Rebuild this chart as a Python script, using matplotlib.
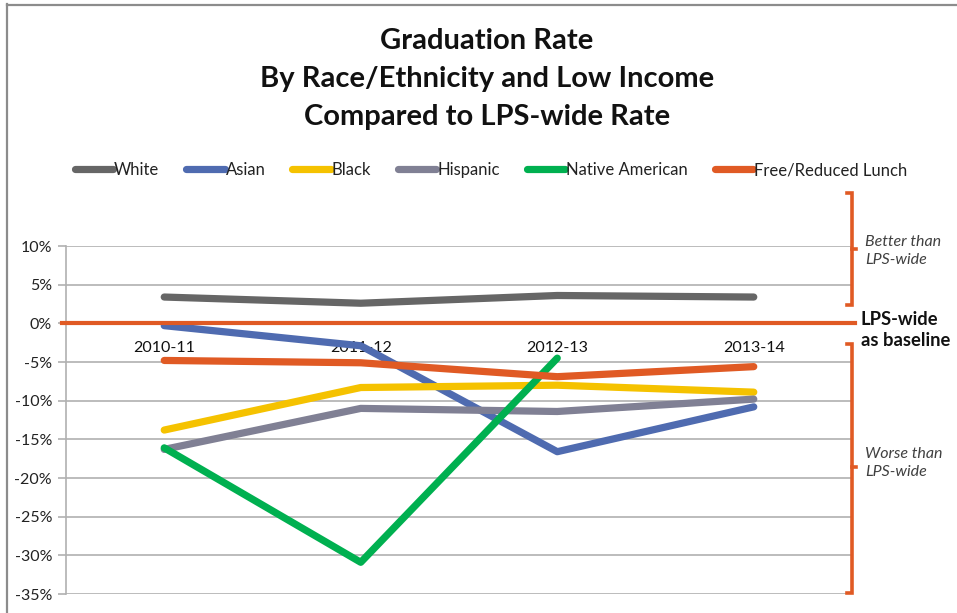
import matplotlib
matplotlib.use("Agg")
import matplotlib.pyplot as plt
from matplotlib.lines import Line2D
from matplotlib.ticker import FuncFormatter, MultipleLocator
import matplotlib.transforms as mtrans

plt.rcParams['font.family'] = ['Lato', 'DejaVu Sans']

years = ["2010-11", "2011-12", "2012-13", "2013-14"]
white = [3.4, 2.6, 3.6, 3.4]
asian = [-0.3, -2.9, -16.6, -10.8]
black = [-13.8, -8.3, -8.0, -8.9]
hispanic = [-16.3, -11.0, -11.4, -9.8]
native_american = [-16.1, -30.9, -4.5]
free_reduced = [-4.8, -5.1, -6.9, -5.6]

series = [
    ("White", white, "#666666"),
    ("Asian", asian, "#4F6BB0"),
    ("Black", black, "#F5C200"),
    ("Hispanic", hispanic, "#808094"),
    ("Native American", native_american, "#00B050"),
    ("Free/Reduced Lunch", free_reduced, "#E05A24"),
]

W, H = 957, 613
fig = plt.figure(figsize=(W / 100, H / 100), dpi=100)
ax = fig.add_axes([66 / W, 1 - 594 / H, (852 - 66) / W, (594 - 246) / H])

# frame around the chart area
fig.add_artist(Line2D([7.5 / W, 7.5 / W], [0, 1 - 4 / H], color="#8c8c8c", lw=1.6))
fig.add_artist(Line2D([7.5 / W, 1], [1 - 4.5 / H, 1 - 4.5 / H], color="#8c8c8c", lw=1.6))

ax.set_xlim(-0.5, 3.5)
ax.set_ylim(-35, 10)
ax.yaxis.set_major_locator(MultipleLocator(5))
ax.yaxis.set_major_formatter(FuncFormatter(lambda v, p: f"{v:.0f}%"))
ax.grid(axis="y", color="#b0b0b0", lw=1.2)
ax.set_axisbelow(True)

for s in ["top", "right", "bottom"]:
    ax.spines[s].set_visible(False)
ax.spines["left"].set_color("#b0b0b0")
ax.spines["left"].set_linewidth(1.2)
ax.tick_params(axis="y", length=6, color="#b0b0b0", width=1.2, labelsize=11.5,
               labelcolor="#222222", pad=4)
ax.set_xticks(range(len(years)))
ax.set_xticklabels([])
ax.tick_params(axis="x", length=0)
for i, yr in enumerate(years):
    ax.annotate(yr, (i, 0), xytext=(0, -18), textcoords="offset points",
                ha="center", va="center", fontsize=11.5, color="#111111")

for name, vals, col in series:
    ax.plot(range(len(vals)), vals, color=col, lw=5.2, solid_capstyle="round",
            solid_joinstyle="round", label=name, zorder=3)

# LPS-wide baseline
trans = mtrans.blended_transform_factory(ax.transAxes, ax.transData)
ax.plot([-0.005, 1.004], [0, 0], transform=trans, color="#E05A24", lw=3,
        clip_on=False, zorder=4)

fig.text(487 / W, 1 - 79 / H,
         "Graduation Rate\nBy Race/Ethnicity and Low Income\nCompared to LPS-wide Rate",
         ha="center", va="center", fontsize=21, fontweight="bold",
         linespacing=1.55, color="#111111")

handles = [Line2D([], [], color=c, lw=5.2, solid_capstyle="round") for _, _, c in series]
fig.legend(handles, [n for n, _, _ in series], loc="center",
           bbox_to_anchor=(491 / W, 1 - 170 / H), ncol=6, frameon=False,
           fontsize=12, handlelength=2.3, handletextpad=0.05, columnspacing=1.62,
           labelcolor="#222222")

# brackets on the right
def bracket(y0, y1, ymid):
    xs = 852 / W
    col = "#E05A24"
    fy = lambda y: 1 - y / H
    fig.add_artist(Line2D([xs - 5 / W, xs, xs, xs - 5 / W],
                          [fy(y0), fy(y0), fy(y1), fy(y1)], color=col, lw=2.6,
                          solid_joinstyle="miter"))
    fig.add_artist(Line2D([xs, xs + 4 / W], [fy(ymid), fy(ymid)], color=col, lw=2.6))

bracket(193, 305, 249)
bracket(344, 593, 467)

fig.text(865 / W, 1 - 251 / H, "Better than\nLPS-wide", ha="left", va="center",
         fontsize=11.5, style="italic", color="#404040", linespacing=1.4)
fig.text(861 / W, 1 - 330 / H, "LPS-wide\nas baseline", ha="left", va="center",
         fontsize=13.2, fontweight="bold", color="#111111", linespacing=1.3)
fig.text(865 / W, 1 - 463 / H, "Worse than\nLPS-wide", ha="left", va="center",
         fontsize=11.5, style="italic", color="#404040", linespacing=1.4)

fig.savefig("out.png", dpi=100)
